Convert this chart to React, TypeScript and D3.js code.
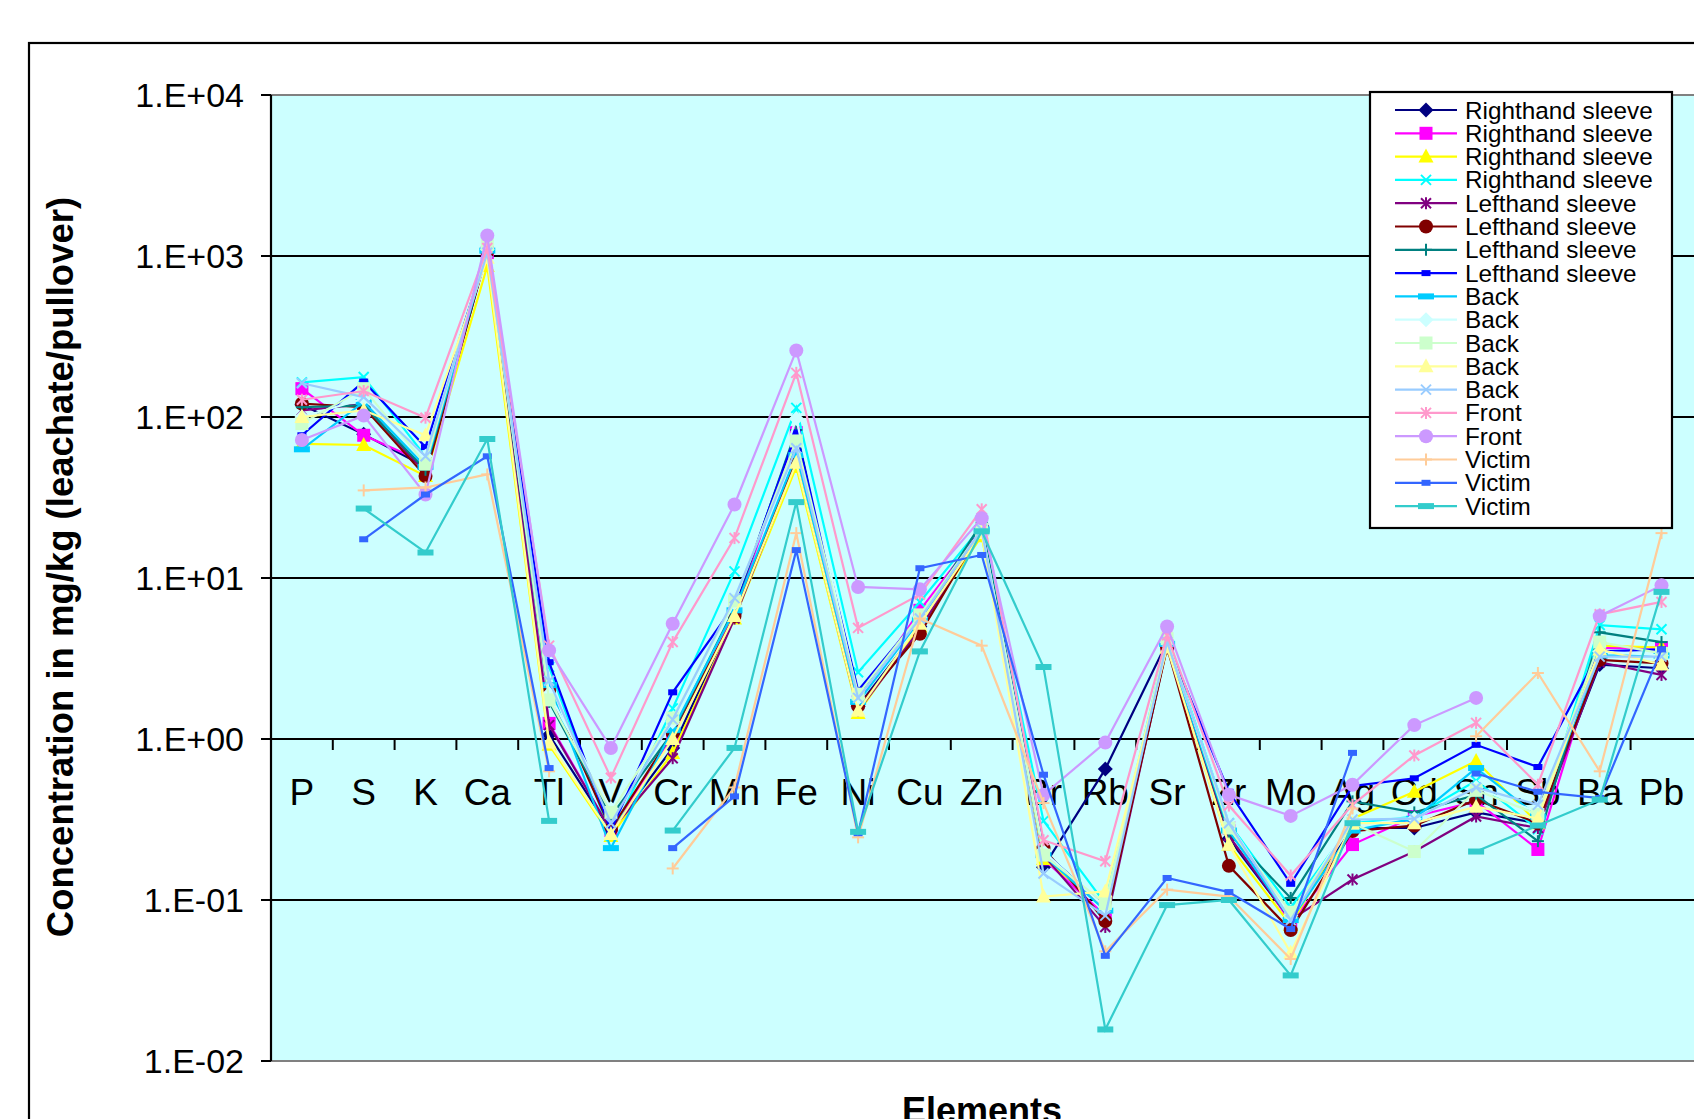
import React from "react";
import * as d3 from "d3";

// Elements on the x axis
const elements = ["P", "S", "K", "Ca", "Tl", "V", "Cr", "Mn", "Fe", "Ni", "Cu", "Zn", "Br", "Rb", "Sr", "Zr", "Mo", "Ag", "Cd", "Sn", "Sb", "Ba", "Pb"];

// Concentration (mg/kg) per element, one array per sample
const rightSleeveA = [119, 78, 49, 1070, 1.06, 0.27, 0.88, 6.0, 57, 1.6, 5.0, 21, 0.16, 0.65, 4.0, 0.24, 0.075, 0.28, 0.28, 0.35, 0.30, 2.9, 2.75];
const rightSleeveB = [150, 77, 52, 1050, 1.25, 0.27, 1.06, 6.2, 80, 1.7, 6.3, 20, 0.18, 0.08, 3.8, 0.28, 0.072, 0.221, 0.33, 0.41, 0.206, 3.67, 3.7];
const rightSleeveC = [68, 67, 43, 866, 0.92, 0.25, 0.82, 5.6, 49, 1.45, 5.0, 18.2, 0.18, 0.09, 3.7, 0.22, 0.07, 0.32, 0.47, 0.73, 0.30, 3.8, 3.7];
const rightSleeveD = [164, 177, 57, 1100, 2.8, 0.25, 1.55, 11, 114, 2.6, 7.1, 21, 0.31, 0.095, 4.2, 0.30, 0.09, 0.30, 0.33, 0.55, 0.275, 5.1, 4.8];
const leftSleeveA = [110, 120, 45, 1050, 1.22, 0.27, 0.76, 5.6, 54, 1.5, 4.8, 20, 0.19, 0.068, 3.8, 0.25, 0.075, 0.134, 0.20, 0.33, 0.28, 3.0, 2.5];
const leftSleeveB = [121, 115, 43, 1070, 2.0, 0.275, 1.09, 5.8, 54, 1.6, 4.5, 20, 0.21, 0.074, 3.7, 0.163, 0.065, 0.268, 0.29, 0.42, 0.30, 3.1, 2.95];
const leftSleeveC = [115, 118, 47, 1080, 1.7, 0.33, 1.1, 6.5, 83, 1.9, 5.5, 22, 0.20, 0.09, 4.0, 0.26, 0.103, 0.41, 0.35, 0.45, 0.232, 4.6, 4.0];
const leftSleeveD = [77, 166, 65, 1080, 3.0, 0.27, 1.95, 6.8, 80, 2.0, 5.8, 20, 0.20, 0.09, 4.0, 0.47, 0.126, 0.51, 0.57, 0.92, 0.67, 3.5, 3.6];
const backA = [63, 124, 49, 1080, 2.16, 0.21, 1.14, 6.3, 58, 1.7, 5.5, 20, 0.19, 0.086, 3.9, 0.27, 0.075, 0.27, 0.32, 0.66, 0.33, 3.3, 3.3];
const backB = [100, 130, 57, 1100, 1.9, 0.37, 1.28, 7.0, 98, 1.8, 5.7, 20, 0.20, 0.09, 4.0, 0.30, 0.08, 0.32, 0.32, 0.50, 0.35, 3.5, 3.3];
const backC = [91, 150, 51, 1180, 1.75, 0.35, 1.35, 7.2, 71, 1.9, 5.9, 20, 0.19, 0.095, 4.2, 0.28, 0.084, 0.30, 0.20, 0.48, 0.34, 4.0, 3.4];
const backD = [100, 110, 77, 975, 0.95, 0.257, 1.0, 5.8, 52, 1.5, 5.2, 19, 0.105, 0.113, 3.7, 0.22, 0.047, 0.30, 0.30, 0.38, 0.32, 3.6, 2.9];
const backE = [162, 133, 57, 1050, 2.3, 0.30, 1.32, 7.5, 64, 1.8, 5.6, 20, 0.146, 0.08, 4.0, 0.30, 0.075, 0.316, 0.32, 0.50, 0.39, 3.25, 3.25];
const frontA = [128, 145, 99, 1120, 3.8, 0.575, 4.0, 17.7, 188, 4.9, 7.9, 26.7, 0.235, 0.174, 4.4, 0.386, 0.142, 0.39, 0.79, 1.26, 0.52, 5.95, 7.1];
const frontB = [72, 102, 33, 1343, 3.55, 0.88, 5.2, 28.6, 259, 8.8, 8.5, 23.5, 0.45, 0.95, 5.0, 0.45, 0.333, 0.52, 1.22, 1.8, null, 5.8, 9.0];
const victimA = [null, 35, 36.5, 44, 0.63, null, 0.157, 0.5, 19, 0.245, 5.6, 3.8, 0.4, 0.048, 0.116, 0.105, 0.043, 0.37, null, 1.04, 2.57, 0.63, 19];
const victimB = [null, 17.4, 33, 57, 0.66, null, 0.21, 0.44, 14.9, 0.26, 11.5, 13.9, 0.6, 0.045, 0.137, 0.112, 0.066, 0.82, null, 0.61, 0.47, 0.43, 3.6];
const victimC = [null, 27, 14.4, 73, 0.31, null, 0.27, 0.88, 29.6, 0.265, 3.5, 19.5, 2.8, 0.0157, 0.093, 0.10, 0.034, 0.30, null, 0.20, 0.29, 0.42, 8.2];

const seriesValues = [rightSleeveA, rightSleeveB, rightSleeveC, rightSleeveD, leftSleeveA, leftSleeveB, leftSleeveC, leftSleeveD, backA, backB, backC, backD, backE, frontA, frontB, victimA, victimB, victimC];
const seriesNames = ["Righthand sleeve", "Righthand sleeve", "Righthand sleeve", "Righthand sleeve", "Lefthand sleeve", "Lefthand sleeve", "Lefthand sleeve", "Lefthand sleeve", "Back", "Back", "Back", "Back", "Back", "Front", "Front", "Victim", "Victim", "Victim"];
const seriesColors = ["#000080", "#FF00FF", "#FFFF00", "#00FFFF", "#800080", "#800000", "#008080", "#0000FF", "#00CCFF", "#CCFFFF", "#CCFFCC", "#FFFF99", "#99CCFF", "#FF99CC", "#CC99FF", "#FFCC99", "#3366FF", "#33CCCC"];
const seriesMarkers = ["diamond", "square", "triangle", "x", "star", "circle", "plus", "shortDash", "longDash", "diamond", "square", "triangle", "x", "star", "circle", "plus", "shortDash", "longDash"];

const yTickValues = [0.01, 0.1, 1, 10, 100, 1000, 10000];
const yTickLabels = ["1.E-02", "1.E-01", "1.E+00", "1.E+01", "1.E+02", "1.E+03", "1.E+04"];

const W = 1694;
const H = 1119;
const plotLeft = 271;
const plotRight = 1692.4;
const plotTop = 95;
const plotBottom = 1061;
const FONT = "'Liberation Sans', Arial, sans-serif";

function Marker({ type, x, y, color }: { type: string; x: number; y: number; color: string }) {
  const sw = 2;
  switch (type) {
    case "diamond":
      return <polygon points={`${x},${y - 7.5} ${x + 7.5},${y} ${x},${y + 7.5} ${x - 7.5},${y}`} fill={color} />;
    case "square":
      return <rect x={x - 6.5} y={y - 6.5} width={13} height={13} fill={color} />;
    case "triangle":
      return <polygon points={`${x},${y - 8} ${x + 7.5},${y + 6} ${x - 7.5},${y + 6}`} fill={color} />;
    case "circle":
      return <circle cx={x} cy={y} r={7} fill={color} />;
    case "x":
      return (
        <g stroke={color} strokeWidth={sw}>
          <line x1={x - 5} y1={y - 5} x2={x + 5} y2={y + 5} />
          <line x1={x - 5} y1={y + 5} x2={x + 5} y2={y - 5} />
        </g>
      );
    case "star":
      return (
        <g stroke={color} strokeWidth={sw}>
          <line x1={x - 5} y1={y - 5} x2={x + 5} y2={y + 5} />
          <line x1={x - 5} y1={y + 5} x2={x + 5} y2={y - 5} />
          <line x1={x} y1={y - 6} x2={x} y2={y + 6} />
        </g>
      );
    case "plus":
      return (
        <g stroke={color} strokeWidth={sw}>
          <line x1={x} y1={y - 6} x2={x} y2={y + 6} />
          <line x1={x - 6} y1={y} x2={x + 6} y2={y} />
        </g>
      );
    case "shortDash":
      return <rect x={x - 4.5} y={y - 3} width={9} height={6} fill={color} />;
    case "longDash":
      return <rect x={x - 8} y={y - 3} width={16} height={6} fill={color} />;
    default:
      return null;
  }
}

export default function App() {
  const x = d3.scaleBand<string>().domain(elements).range([plotLeft, plotRight]);
  const bw = x.bandwidth();
  const cx = (e: string) => (x(e) as number) + bw / 2;
  const y = d3.scaleLog().domain([0.01, 10000]).range([plotBottom, plotTop]);
  const axisY = y(1);

  const line = d3
    .line<number | null>()
    .defined((d) => d !== null)
    .x((_, i) => cx(elements[i]))
    .y((d) => y(d as number));

  const legendX = 1370;
  const legendY = 92;
  const legendW = 302;
  const legendH = 436;
  const rowY0 = 110;
  const rowStep = 23.3;

  return (
    <svg width={W} height={H} style={{ position: "absolute", left: 0, top: 0, display: "block" }} fontFamily={FONT}>
      <rect x={0} y={0} width={W} height={H} fill="#ffffff" />
      {/* chart frame */}
      <rect x={29} y={43} width={W + 100} height={H + 100} fill="#ffffff" stroke="#000" strokeWidth={2.2} />
      {/* plot background */}
      <rect x={plotLeft} y={plotTop} width={plotRight - plotLeft + 20} height={plotBottom - plotTop} fill="#CCFFFF" />
      {/* gridlines */}
      {yTickValues.map((v, i) => {
        const edge = i === 0 || i === yTickValues.length - 1;
        return (
          <line key={`g${i}`} x1={plotLeft} x2={W} y1={y(v)} y2={y(v)} stroke={edge ? "#808080" : "#000"} strokeWidth={2.2} />
        );
      })}
      {/* y axis */}
      <line x1={plotLeft} x2={plotLeft} y1={plotTop} y2={plotBottom} stroke="#000" strokeWidth={2.2} />
      {yTickValues.map((v, i) => (
        <g key={`yt${i}`}>
          <line x1={plotLeft - 10} x2={plotLeft} y1={y(v)} y2={y(v)} stroke="#000" strokeWidth={2} />
          <text x={plotLeft - 27} y={y(v) + 12} textAnchor="end" fontSize={34} fill="#000">
            {yTickLabels[i]}
          </text>
        </g>
      ))}
      {/* x axis crossing at 1 */}
      {elements.map((e, i) =>
        i === 0 ? null : (
          <line key={`xt${i}`} x1={x(e) as number} x2={x(e) as number} y1={axisY} y2={axisY + 11} stroke="#000" strokeWidth={2} />
        )
      )}
      {elements.map((e) => (
        <text key={`xl${e}`} x={cx(e)} y={axisY + 66} textAnchor="middle" fontSize={37} fill="#000">
          {e}
        </text>
      ))}
      {/* series */}
      {seriesValues.map((vals, s) => (
        <g key={`s${s}`}>
          <path d={line(vals) || ""} fill="none" stroke={seriesColors[s]} strokeWidth={2.2} />
          {vals.map((v, i) =>
            v === null ? null : <Marker key={i} type={seriesMarkers[s]} x={cx(elements[i])} y={y(v)} color={seriesColors[s]} />
          )}
        </g>
      ))}
      {/* axis titles */}
      <text
        transform="translate(73, 567) rotate(-90)"
        textAnchor="middle"
        fontSize={36.5}
        fontWeight="bold"
        fill="#000"
      >
        Concentration in mg/kg (leachate/pullover)
      </text>
      <text x={982} y={1123} textAnchor="middle" fontSize={36} fontWeight="bold" fill="#000">
        Elements
      </text>
      {/* legend */}
      <rect x={legendX} y={legendY} width={legendW} height={legendH} fill="#fff" stroke="#000" strokeWidth={2.2} />
      {seriesNames.map((name, s) => {
        const ry = rowY0 + s * rowStep;
        return (
          <g key={`lg${s}`}>
            <line x1={1395} x2={1457} y1={ry} y2={ry} stroke={seriesColors[s]} strokeWidth={2.2} />
            <Marker type={seriesMarkers[s]} x={1426} y={ry} color={seriesColors[s]} />
            <text x={1465} y={ry + 8.5} fontSize={24.3} fill="#000">
              {name}
            </text>
          </g>
        );
      })}
    </svg>
  );
}
